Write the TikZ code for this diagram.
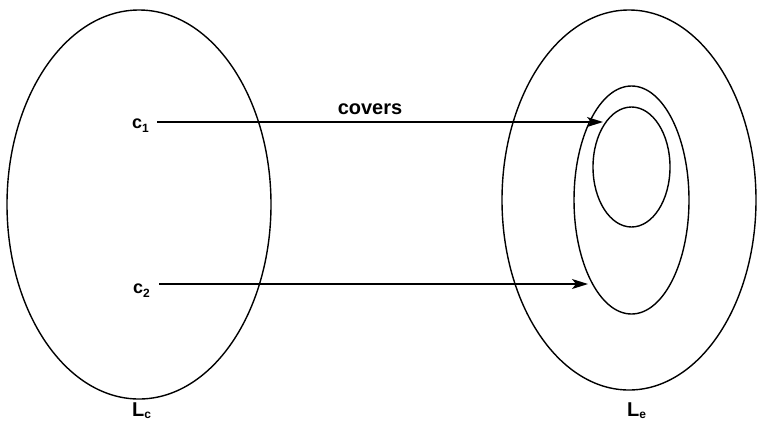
\documentclass[tikz,border=0pt]{standalone}
\usepackage{fontspec}
\setmainfont{Liberation Sans}
\usetikzlibrary{arrows.meta,shapes.geometric}
\newcommand{\lsub}[2]{\raisebox{-#1}{\fontsize{12}{12}\selectfont #2}}
\begin{document}
\begin{tikzpicture}[x=1pt,y=-1pt,
  set/.style={draw,line width=1.4pt},
  conn/.style={line width=1.4pt,-{Stealth[length=16pt,width=10pt,inset=4pt]}},
  lbl/.style={inner sep=0pt,font=\fontsize{18}{20}\selectfont\bfseries},
  biglbl/.style={inner sep=0pt,font=\fontsize{20}{24}\selectfont\bfseries}]
\useasboundingbox (0,0) rectangle (757,424);
% sets
\draw[set] (139,204.5) ellipse [x radius=132, y radius=194.5];
\draw[set] (629,200) ellipse [x radius=127, y radius=190];
\draw[set] (631.5,200) ellipse [x radius=57.5, y radius=114];
\draw[set] (631.5,167) ellipse [x radius=38.5, y radius=60];
% labels
\node[lbl,anchor=base west] (c1) at (132,128) {c\lsub{4pt}{1}};
\node[lbl,anchor=base west] (c2) at (133,293) {c\lsub{4pt}{2}};
\node[biglbl,anchor=base west] (Lc) at (132,416) {L\lsub{2pt}{c}};
\node[biglbl,anchor=base west] (Le) at (627,416) {L\lsub{2pt}{e}};
\node[biglbl,anchor=base] (cov) at (370,114) {covers};
% tips
\coordinate (t1) at (603,122);
\coordinate (t2) at (588,284);
\draw[conn] (c1.east |- t1) ++(8,0) coordinate (s1) (s1) -- (t1);
\draw[conn] (c2.east |- t2) ++(9,0) coordinate (s2) (s2) -- (t2);
\end{tikzpicture}
\end{document}
